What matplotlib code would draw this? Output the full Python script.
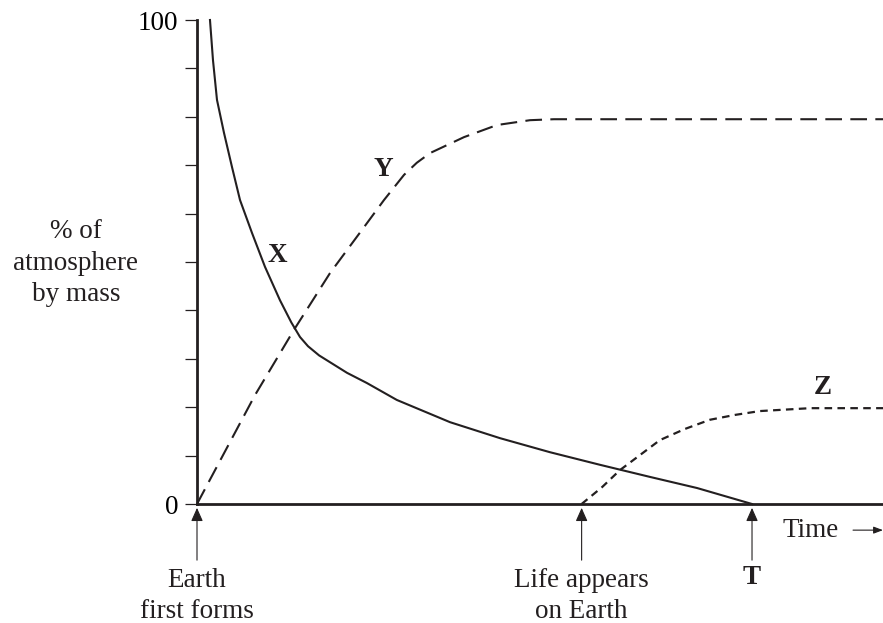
import matplotlib as mpl
import matplotlib.pyplot as plt

mpl.rcParams.update({
    "font.family": ["Liberation Serif", "DejaVu Serif"],
    "font.size": 19.5,
    "lines.solid_joinstyle": "round",
    "lines.dash_joinstyle": "round",
})

INK = "#231f20"

# time axis: Earth forms at 0, T at 10
t_earth, t_life, t_T = 0.0, 6.93, 10.0
t_end = 12.36

x_time = [0.234, 0.288, 0.360, 0.486, 0.631, 0.775, 0.991, 1.225, 1.495, 1.700, 1.856,
          2.000, 2.200, 2.703, 3.06, 3.60, 4.56, 5.46, 6.36, 7.26, 8.16, 9.01, 10.0]
x_pct = [100, 91.7, 83.5, 76.7, 69.6, 62.8, 56.0, 49.0, 42.1, 37.5, 34.5,
         32.6, 30.7, 27.1, 25.0, 21.5, 16.9, 13.6, 10.7, 8.1, 5.6, 3.3, 0]

y_time = [0.0, 1.045, 1.748, 2.396, 3.009, 3.369, 3.730, 3.960, 4.198, 4.811, 5.405, 6.0, 6.432, 12.36]
y_pct = [0, 22.5, 36.0, 47.7, 57.2, 62.8, 68.0, 70.5, 72.5, 75.8, 78.3, 79.3, 79.5, 79.5]

z_time = [6.93, 7.30, 7.62, 7.98, 8.34, 8.79, 9.24, 9.69, 10.14, 11.05, 12.36]
z_pct = [0, 3.5, 7.0, 10.1, 13.2, 15.5, 17.4, 18.4, 19.2, 19.8, 19.8]

fig = plt.figure(figsize=(8.83, 6.23), dpi=100)
ax = fig.add_axes([197 / 883, 119 / 623, 686 / 883, 484 / 623])

ax.plot(x_time, x_pct, color=INK, lw=1.5, clip_on=False)
ax.plot(y_time, y_pct, color=INK, lw=1.5, dashes=(8, 4), clip_on=False)
ax.plot(z_time, z_pct, color=INK, lw=1.6, dashes=(3.4, 2.4), clip_on=False)

ax.set_xlim(0, t_end)
ax.set_ylim(0, 100)
ax.spines[["top", "right"]].set_visible(False)
ax.spines["left"].set_linewidth(2)
ax.spines["bottom"].set_linewidth(2)
ax.spines[["left", "bottom"]].set_color(INK)
ax.set_xticks([])
ax.set_yticks(range(0, 101, 10), ["0"] + [""] * 9 + ["100"])
ax.tick_params(axis="y", length=8.6, width=0.9, pad=5, color=INK)

# curve labels
bold = dict(fontweight="bold", ha="center", va="center", color=INK)
ax.text(1.44, 51.4, "X", **bold)
ax.text(3.35, 69.2, "Y", **bold)
ax.text(11.28, 24.0, "Z", **bold)

# y label
fig.text(76 / 883, 1 - 263 / 623, "% of\natmosphere\nby mass", ha="center", va="center",
         linespacing=1.35, color=INK)

# event arrows under the time axis
tr = ax.get_xaxis_transform()
arrow = dict(arrowstyle="-|>,head_length=0.45,head_width=0.2", color=INK, lw=0.8,
             mutation_scale=18, shrinkA=0, shrinkB=0)
for t in (t_earth, t_life, t_T):
    ax.annotate("", xy=(t, -0.008), xytext=(t, -0.116), xycoords=tr, textcoords=tr,
                arrowprops=arrow, annotation_clip=False)

ax.text(t_earth, -0.19, "Earth\nfirst forms", transform=tr, ha="center", va="center",
        linespacing=1.3, color=INK)
ax.text(t_life, -0.19, "Life appears\non Earth", transform=tr, ha="center", va="center",
        linespacing=1.3, color=INK)
ax.text(t_T, -0.151, "T", transform=tr, **bold)
ax.text(11.05, -0.054, "Time", transform=tr, ha="center", va="center", color=INK)
ax.annotate("", xy=(12.36, -0.054), xytext=(11.82, -0.054), xycoords=tr, textcoords=tr,
            arrowprops=dict(arrowstyle="-|>,head_length=0.4,head_width=0.15", color=INK,
                            lw=0.8, mutation_scale=14, shrinkA=0, shrinkB=0),
            annotation_clip=False)

fig.savefig("out.png", dpi=100)
